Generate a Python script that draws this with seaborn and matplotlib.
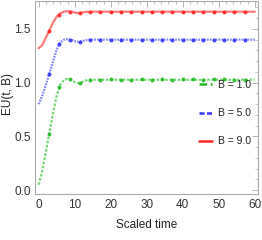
import numpy as np
import pandas as pd
import seaborn as sns
from matplotlib import pyplot as plt
from matplotlib.lines import Line2D
from matplotlib.ticker import MultipleLocator

# curve samples
t_line = [0, 1, 2, 3, 4, 5, 6, 7, 8, 9, 10, 11, 12, 13, 14, 15, 17, 20,
          25, 30, 35, 40, 45, 50, 55, 60]
eu_b1 = [0.05, 0.18, 0.36, 0.54, 0.72, 0.88, 0.98, 1.025, 1.035, 1.025, 1.005,
         0.995, 1.005, 1.02, 1.027, 1.028, 1.027, 1.027, 1.027, 1.027, 1.027,
         1.027, 1.027, 1.027, 1.027, 1.027]
eu_b5 = [0.80, 0.88, 0.98, 1.09, 1.20, 1.31, 1.375, 1.40, 1.405, 1.40, 1.385,
         1.38, 1.385, 1.395, 1.40, 1.40, 1.40, 1.40, 1.40, 1.40, 1.40, 1.40,
         1.40, 1.40, 1.40, 1.40]
eu_b9 = [1.32, 1.35, 1.42, 1.49, 1.56, 1.615, 1.645, 1.66, 1.665, 1.66, 1.652,
         1.648, 1.652, 1.658, 1.66, 1.66, 1.66, 1.66, 1.66, 1.66, 1.66, 1.66,
         1.66, 1.66, 1.66, 1.66]

# mesh points (20 evenly spaced interior points)
t_mesh = [k * 60 / 21 for k in range(1, 21)]
dots_b1 = [0.52, 0.96, 1.03, 1.00, 1.027, 1.025, 1.03, 1.025, 1.027, 1.03,
           1.027, 1.03, 1.027, 1.03, 1.03, 1.027, 1.03, 1.03, 1.027, 1.027]
dots_b5 = [1.08, 1.36, 1.40, 1.38, 1.40, 1.40, 1.40, 1.40, 1.40, 1.40, 1.40,
           1.40, 1.40, 1.40, 1.40, 1.40, 1.40, 1.40, 1.40, 1.40]
dots_b9 = [1.48, 1.63, 1.66, 1.65, 1.66, 1.66, 1.66, 1.66, 1.66, 1.66, 1.66,
           1.66, 1.66, 1.66, 1.66, 1.66, 1.66, 1.66, 1.66, 1.66]

labels = ['B = 1.0', 'B = 5.0', 'B = 9.0']
colors = ['#22bb22', '#3333ff', '#ff2222']
styles = [(0, (1.2, 0.7)), (0, (0.8, 0.5)), '-']
legend_styles = [(0, (3, 1.5)), (0, (2, 1)), '-']

sns.set_style('white')
plt.rcParams['font.family'] = ['Liberation Sans', 'DejaVu Sans']

fig = plt.figure(figsize=(2.62, 2.40), dpi=100)
ax = fig.add_axes([0.134, 0.19, 0.851, 0.806])

lines = [eu_b1, eu_b5, eu_b9]
dots = [dots_b1, dots_b5, dots_b9]
for lab, c, ls, y, d in zip(labels, colors, styles, lines, dots):
    line_df = pd.DataFrame({'t': t_line, 'eu': y})
    sns.lineplot(data=line_df, x='t', y='eu', color=c, lw=1.6, alpha=0.6,
                 linestyle=ls, ax=ax)
    dot_df = pd.DataFrame({'t': t_mesh, 'eu': d})
    sns.scatterplot(data=dot_df, x='t', y='eu', color=c, s=8, linewidth=0,
                    alpha=0.9, ax=ax)

ax.set_xlim(-1, 60.9)
ax.set_ylim(-0.04, 1.76)
ax.xaxis.set_major_locator(MultipleLocator(10))
ax.xaxis.set_minor_locator(MultipleLocator(2))
ax.yaxis.set_major_locator(MultipleLocator(0.5))
ax.yaxis.set_minor_locator(MultipleLocator(0.1))
ax.tick_params(which='both', direction='in', top=True, right=True,
               color='#aaaaaa', labelcolor='#333333', labelsize=8.5, pad=3)
ax.tick_params(which='major', length=4, width=0.6)
ax.tick_params(which='minor', length=2, width=0.5)
for sp in ax.spines.values():
    sp.set_color('#aaaaaa')
    sp.set_linewidth(0.8)

ax.set_xlabel('Scaled time', fontsize=8.5, color='#222222', labelpad=6)
ax.set_ylabel('EU(t, B)', fontsize=8.5, color='#222222')
ax.yaxis.set_label_coords(-0.095, 0.52)

handles = [Line2D([], [], color=c, lw=1.8, linestyle=ls)
           for c, ls in zip(colors, legend_styles)]
ax.legend(handles, labels, loc='center right', bbox_to_anchor=(1.01, 0.42),
          frameon=False, fontsize=7.5, handlelength=1.2, handletextpad=0.6,
          labelspacing=1.75, labelcolor='#222222')

fig.savefig('out.png', dpi=100)
